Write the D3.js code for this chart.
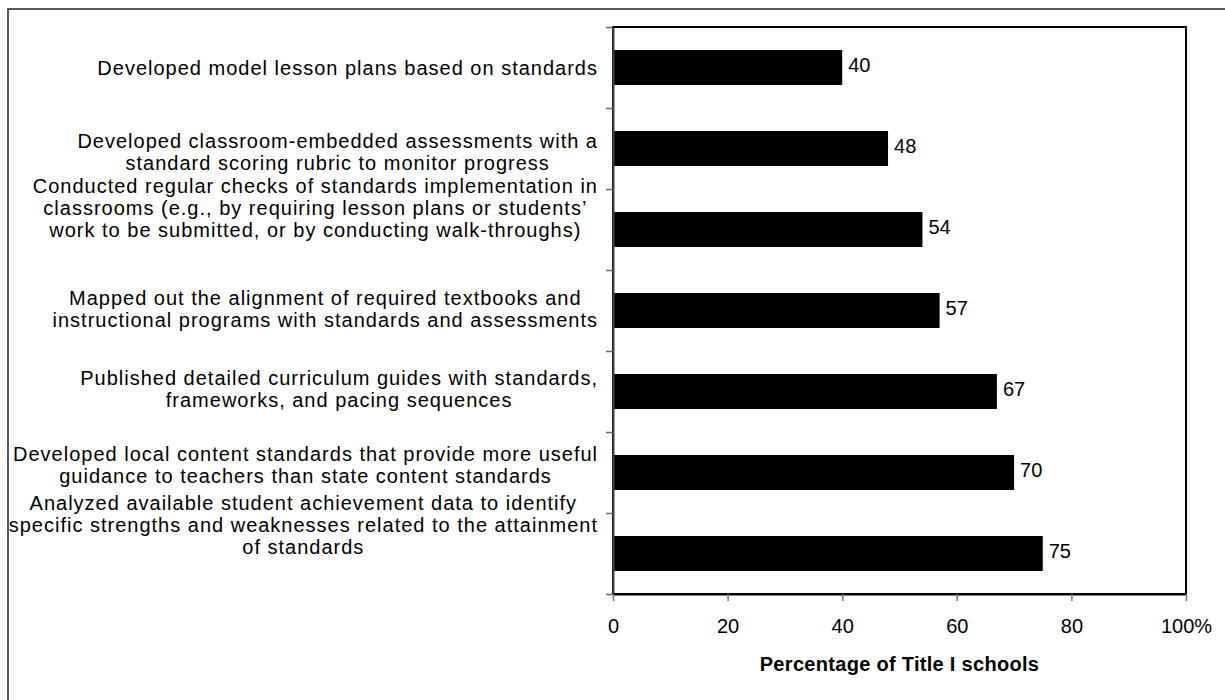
<!DOCTYPE html>
<html>
<head>
<meta charset="utf-8">
<script src="https://cdn.jsdelivr.net/npm/d3@7"></script>
<style>
  html, body { margin: 0; padding: 0; background: #fff; }
  svg { display: block; font-family: "Liberation Sans", Arial, sans-serif; }
</style>
</head>
<body>
<svg id="chart" width="1225" height="700"></svg>
<script>
// ---- data ----
const categories = [
  "Developed model lesson plans based on standards",
  "Developed classroom-embedded assessments with a\nstandard scoring rubric to monitor progress",
  "Conducted regular checks of standards implementation in\nclassrooms (e.g., by requiring lesson plans or students’\nwork to be submitted, or by conducting walk-throughs)",
  "Mapped out the alignment of required textbooks and\ninstructional programs with standards and assessments",
  "Published detailed curriculum guides with standards,\nframeworks, and pacing sequences",
  "Developed local content standards that provide more useful\nguidance to teachers than state content standards",
  "Analyzed available student achievement data to identify\nspecific strengths and weaknesses related to the attainment\nof standards"
];
const values = [40, 48, 54, 57, 67, 70, 75];
const xTicks = [0, 20, 40, 60, 80, 100];
const xTickLabels = ["0", "20", "40", "60", "80", "100%"];
const axisTitle = "Percentage of Title I schools";

// ---- layout ----
const plot = { left: 613, top: 27, right: 1186, bottom: 594 };
const labelRight = 598;
const lineGap = 22;
// vertical nudges of the category text blocks (as laid out in the reference)
const labelNudge = [0.5, 3.5, -22, -2, -2.5, -8, -28.5];

const svg = d3.select("#chart");

// outer frame (only left & top visible)
svg.append("rect")
  .attr("x", 8).attr("y", 9)
  .attr("width", 1300).attr("height", 800)
  .attr("fill", "none").attr("stroke", "#222").attr("stroke-width", 1.5);

const x = d3.scaleLinear().domain([0, 100]).range([plot.left, plot.right]);
const y = d3.scaleBand().domain(categories)
  .range([plot.top, plot.bottom]).paddingInner(0.568).paddingOuter(0.284);
const yEdge = d3.scaleLinear().domain([0, categories.length]).range([plot.top, plot.bottom]);

// plot area border
svg.append("rect")
  .attr("x", plot.left).attr("y", plot.top)
  .attr("width", plot.right - plot.left).attr("height", plot.bottom - plot.top)
  .attr("fill", "none").attr("stroke", "#000").attr("stroke-width", 2);

// bars
svg.append("g").selectAll("rect").data(values).join("rect")
  .attr("x", x(0) + 1)
  .attr("y", (d, i) => y(categories[i]))
  .attr("width", d => x(d) - x(0) - 1)
  .attr("height", y.bandwidth())
  .attr("fill", "#000");

// value labels
svg.append("g").selectAll("text").data(values).join("text")
  .attr("x", d => x(d) + 6)
  .attr("y", (d, i) => y(categories[i]) + y.bandwidth() / 2 - 3)
  .attr("dy", "0.35em")
  .attr("font-size", 20)
  .attr("fill", "#000")
  .text(d => d);

// y axis (ticks at category boundaries)
const yAxisG = svg.append("g")
  .attr("transform", `translate(${plot.left},0)`)
  .call(d3.axisLeft(yEdge).tickValues(d3.range(categories.length + 1)).tickFormat("").tickSize(7).tickSizeOuter(0));
yAxisG.select(".domain").attr("stroke", "#444").attr("stroke-width", 2);
yAxisG.selectAll(".tick line").attr("stroke", "#666").attr("stroke-width", 1.5);

// x axis
const xAxisG = svg.append("g")
  .attr("transform", `translate(0,${plot.bottom})`)
  .call(d3.axisBottom(x).tickValues(xTicks).tickFormat((d, i) => xTickLabels[i]).tickSize(7).tickSizeOuter(0));
xAxisG.select(".domain").attr("stroke", "#000").attr("stroke-width", 2);
xAxisG.selectAll(".tick line").attr("stroke", "#777").attr("stroke-width", 1.5);
xAxisG.selectAll(".tick text")
  .attr("y", 32).attr("dy", "0.35em")
  .attr("font-size", 20).attr("font-family", "Liberation Sans, Arial, sans-serif")
  .attr("fill", "#000");

// axis title
svg.append("text")
  .attr("x", (plot.left + plot.right) / 2)
  .attr("y", 671)
  .attr("text-anchor", "middle")
  .attr("font-size", 20).attr("font-weight", "bold")
  .style("letter-spacing", "0.3px")
  .text(axisTitle);

// category labels: lines centred within a block that is right-aligned to the axis
const labG = svg.append("g");
categories.forEach((c, i) => {
  const lines = c.split("\n");
  const cy = y(c) + y.bandwidth() / 2 + labelNudge[i];
  const g = labG.append("g");
  const texts = lines.map((ln, k) => g.append("text")
    .attr("y", cy + (k - (lines.length - 1) / 2) * lineGap)
    .attr("dy", "0.35em")
    .attr("text-anchor", "middle")
    .attr("font-size", 20)
    .style("letter-spacing", "1px")
    .attr("fill", "#000")
    .text(ln));
  const maxW = d3.max(texts, t => t.node().getComputedTextLength());
  texts.forEach(t => t.attr("x", labelRight - maxW / 2));
});
</script>
</body>
</html>
